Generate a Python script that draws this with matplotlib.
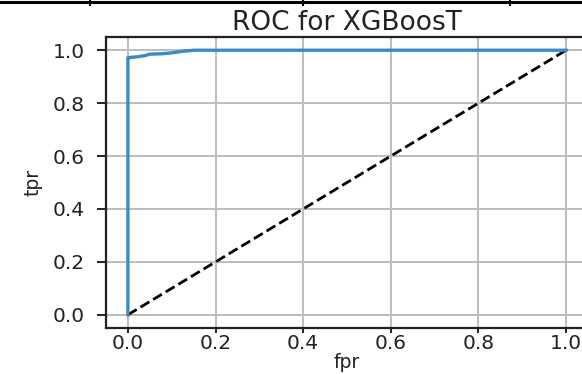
import numpy as np
import matplotlib
matplotlib.use("Agg")
import matplotlib.pyplot as plt
from matplotlib.lines import Line2D

# ROC points
fpr = [0.0, 0.0, 0.0, 0.02, 0.04, 0.05, 0.08, 0.10, 0.12, 0.15, 1.0]
tpr = [0.0, 0.97, 0.972, 0.975, 0.98, 0.985, 0.987, 0.99, 0.995, 1.0, 1.0]

ticks = [0.0, 0.2, 0.4, 0.6, 0.8, 1.0]

W, H = 582, 374
fig = plt.figure(figsize=(W / 100, H / 100), dpi=100)
ax = fig.add_axes([106 / W, 46 / H, 482 / W, 291 / H])

ax.plot([0, 1], [0, 1], "k--", lw=2.0)
ax.plot(fpr, tpr, color="#3a8ac8", lw=2.4)

ax.set_xlim(-0.05, 1.05)
ax.set_ylim(-0.05, 1.05)
ax.set_xticks(ticks)
ax.set_yticks(ticks)
ax.grid(True, color="#bdbdbd", lw=1.4)
ax.set_axisbelow(True)

for s in ax.spines.values():
    s.set_linewidth(1.6)
    s.set_color("#222222")

ax.tick_params(axis="x", labelsize=14.5, length=3.5, width=1.4, pad=1, colors="#222222")
ax.tick_params(axis="y", labelsize=14.5, length=6.5, width=1.4, pad=9, colors="#222222")

ax.set_xlabel("fpr", fontsize=13.5, labelpad=0, color="#222222")
ax.set_ylabel("tpr", fontsize=13.5, labelpad=7, color="#222222")
ax.set_title("ROC for XGBoosT", fontsize=19, pad=5, color="#222222")

# table border above the chart
fig.add_artist(Line2D([0, 1], [1 - 1.5 / H, 1 - 1.5 / H], color="black", lw=2.2,
                      transform=fig.transFigure))
for xp in [90, 303, 510]:
    fig.add_artist(Line2D([xp / W, xp / W], [1, 1 - 5 / H], color="black", lw=1.5,
                          transform=fig.transFigure))

fig.savefig("out.png", dpi=100)
